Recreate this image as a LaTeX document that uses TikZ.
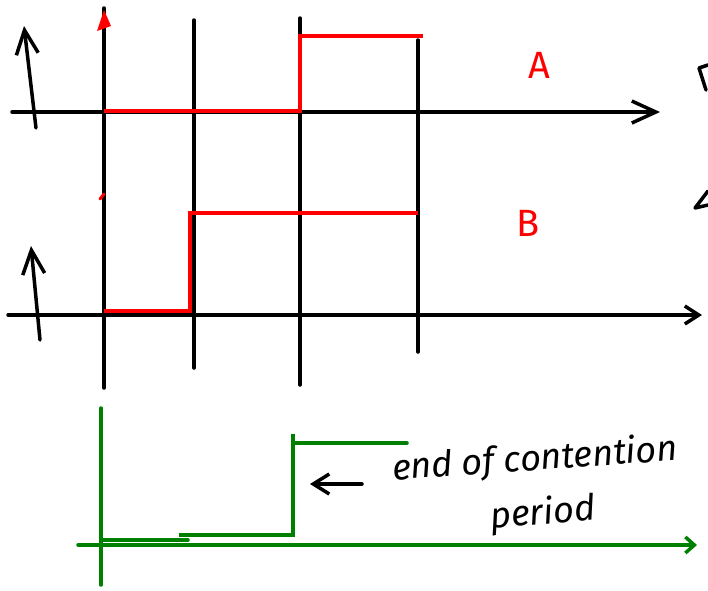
\documentclass[tikz,border=0pt]{standalone}
\usepackage{fontspec}
\setmainfont{Fira Sans}
\usetikzlibrary{arrows.meta, positioning}
\definecolor{sketchgreen}{RGB}{0,128,0}
\definecolor{sketchred}{RGB}{255,0,0}
\tikzstyle{ink} = [black, line width=3.5pt, line cap=round, line join=round]
\tikzstyle{sigred} = [sketchred, line width=3.5pt, line join=miter]
\tikzstyle{siggreen} = [sketchgreen, line width=3.5pt, line cap=round]
\tikzstyle{arrow} = [-{Straight Barb[length=24pt, width=22pt, line width=3.5pt]}]
\tikzstyle{smallarrow} = [-{Straight Barb[length=14pt, width=18pt, line width=3.5pt]}]
\tikzstyle{label} = [sketchred, font=\fontsize{38}{40}\selectfont]
\tikzstyle{note} = [black, inner sep=0pt, font=\fontsize{36}{40}\selectfont\itshape]

\begin{document}
\begin{tikzpicture}[x=1pt, y=-1pt]
  \useasboundingbox (0,0) rectangle (708,590);

  % Time marks
  \coordinate (t0top) at (104,8);   \coordinate (t0bot) at (104,388);
  \coordinate (t1top) at (194,20);  \coordinate (t1bot) at (194,368);
  \coordinate (t2top) at (300,18);  \coordinate (t2bot) at (300,385);
  \coordinate (t3top) at (418,40);  \coordinate (t3bot) at (418,352);
  \draw[ink] (t0top) -- (t0bot);
  \draw[ink] (t1top) -- (t1bot);
  \draw[ink] (t2top) -- (t2bot);
  \draw[ink] (t3top) -- (t3bot);

  % Station A
  \coordinate (axAstart) at (12,112);
  \coordinate (axAend) at (660,112);
  \draw[ink, arrow] (axAstart) -- (axAend);
  \coordinate (upAstart) at (36,128);
  \coordinate (upAend) at (24,26);
  \draw[ink, arrow] (upAstart) -- (upAend);
  \fill[sketchred] (104,10) -- (97,31) -- (111,26) -- cycle;
  \draw[sigred] (104,111) -- (300,111) -- (300,36) -- (423,36);
  \node[label] (nameA) at (539,65) {A};

  % Station B
  \coordinate (axBstart) at (8,315);
  \coordinate (axBend) at (702,315);
  \draw[ink, smallarrow] (axBstart) -- (axBend);
  \coordinate (upBstart) at (40,340);
  \coordinate (upBend) at (31,246);
  \draw[ink, arrow] (upBstart) -- (upBend);
  \draw[sketchred, line width=3pt, line cap=round] (100,199) -- (104,194);
  \draw[sigred] (104,311) -- (190,311) -- (190,213) -- (418,213);
  \node[label] (nameB) at (528,223) {B};

  % Marks cut by the right edge
  \draw[ink] (708,65) -- (699,68) -- (706,90);
  \draw[ink] (708,191) -- (695,208) -- (708,205);

  % Channel
  \coordinate (chup) at (101,408);
  \coordinate (chdown) at (101,585);
  \draw[siggreen] (chup) -- (chdown);
  \coordinate (chstart) at (78,545);
  \coordinate (chend) at (697,545);
  \draw[siggreen, -{Straight Barb[length=9pt, width=16pt, line width=3.5pt]}] (chstart) -- (chend);
  \draw[siggreen] (103,540) -- (188,540);
  \draw[siggreen, line cap=butt] (179,535) -- (293,535) -- (293,434);
  \draw[siggreen] (293,443) -- (407,443);

  % End of contention
  \node[note, rotate=4] (endtext) at (535,460) {end of contention};
  \node[note, rotate=5] (period) at (543,514) {period};
  \coordinate (ptr) at (310,484);
  \draw[ink, -{Straight Barb[length=16pt, width=20pt, line width=3.5pt]}] (362,484) -- (ptr);
\end{tikzpicture}
\end{document}
